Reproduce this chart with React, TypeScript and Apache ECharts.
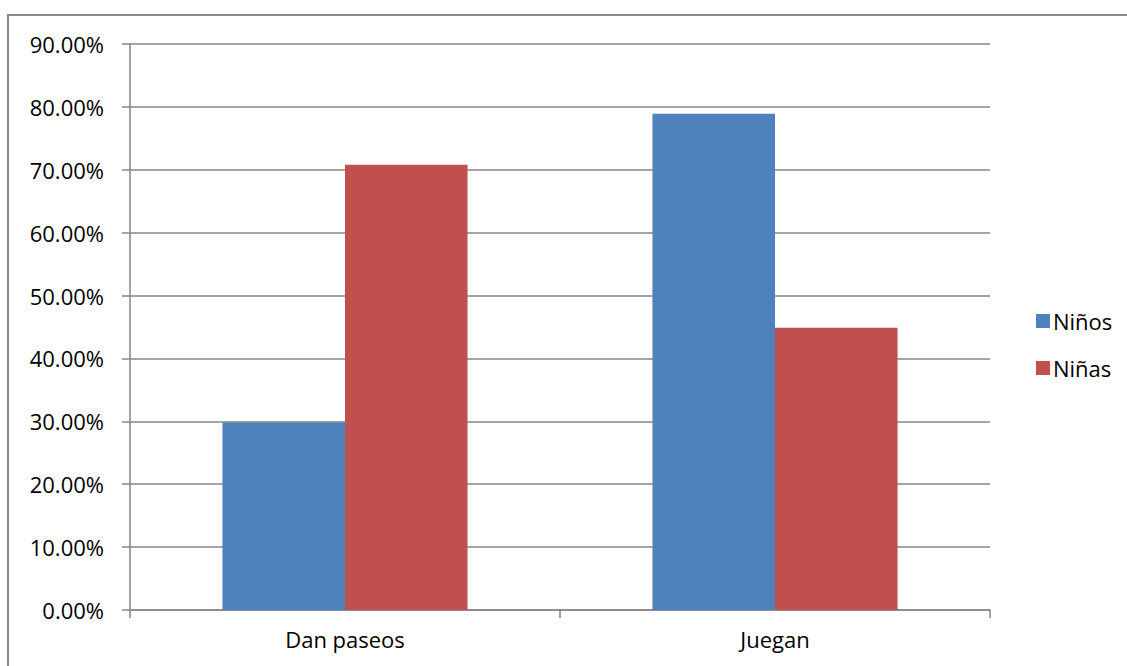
import React, { useEffect, useRef } from "react";
import * as echarts from "echarts";

const categories = ["Dan paseos", "Juegan"];
const seriesNames = ["Niños", "Niñas"];
const ninosValues = [29.8, 78.9];
const ninasValues = [70.8, 44.9];
const colors = ["#4F81BD", "#C0504D"];

export default function App() {
  const ref = useRef<HTMLDivElement>(null);
  useEffect(() => {
    if (!ref.current) return;
    const chart = echarts.init(ref.current, null, { renderer: "svg" });
    const font = "'Open Sans', 'Noto Sans', sans-serif";
    chart.setOption({
      animation: false,
      backgroundColor: "#ffffff",
      textStyle: { fontFamily: font },
      graphic: [
        {
          type: "rect",
          shape: { x: 8, y: 15, width: 1200, height: 700 },
          style: { fill: "none", stroke: "#8a8a8a", lineWidth: 2 },
          silent: true,
        },
      ],
      legend: {
        orient: "vertical",
        left: 1031,
        top: 305,
        itemWidth: 14,
        itemHeight: 14,
        itemGap: 25,
        icon: "rect",
        data: seriesNames,
        textStyle: { fontSize: 22, color: "#000", fontFamily: font, padding: [0, 0, 0, -2] },
      },
      grid: { left: 130, right: 137, top: 44, bottom: 56, containLabel: false },
      xAxis: {
        type: "category",
        data: categories,
        axisLine: { lineStyle: { color: "#868686", width: 1.5 } },
        axisTick: { show: true, length: 8, lineStyle: { color: "#868686", width: 1.5 } },
        axisLabel: { fontSize: 22, color: "#000", margin: 18, fontFamily: font },
      },
      yAxis: {
        type: "value",
        min: 0,
        max: 90,
        interval: 10,
        axisLine: { show: true, lineStyle: { color: "#868686", width: 1.5 } },
        axisTick: { show: true, length: 8, lineStyle: { color: "#868686", width: 1.5 } },
        splitLine: { lineStyle: { color: "#868686", width: 1.5 } },
        axisLabel: {
          fontSize: 22,
          color: "#000",
          margin: 26,
          fontFamily: font,
          formatter: (v: number) => v.toFixed(2) + "%",
        },
      },
      series: [
        {
          name: seriesNames[0],
          type: "bar",
          data: ninosValues,
          itemStyle: { color: colors[0] },
          barGap: "0%",
          barCategoryGap: "43%",
        },
        {
          name: seriesNames[1],
          type: "bar",
          data: ninasValues,
          itemStyle: { color: colors[1] },
          barGap: "0%",
          barCategoryGap: "43%",
        },
      ],
    });
    return () => chart.dispose();
  }, []);
  return (
    <div
      ref={ref}
      style={{ position: "fixed", left: 0, top: 0, width: 1127, height: 666 }}
    />
  );
}
